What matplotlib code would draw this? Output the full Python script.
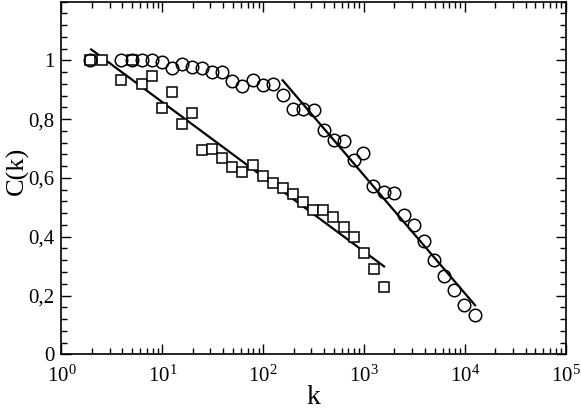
import matplotlib
matplotlib.use("Agg")
import matplotlib.pyplot as plt
import numpy as np
from matplotlib.ticker import FixedLocator, MultipleLocator, LogLocator, NullFormatter

plt.rcParams['font.family'] = ['Liberation Serif', 'DejaVu Serif']
plt.rcParams['mathtext.fontset'] = 'custom'
plt.rcParams['mathtext.rm'] = 'Liberation Serif'
plt.rcParams['mathtext.it'] = 'Liberation Serif:italic'

# circles
k_circ = [1.94, 3.9, 5.0, 6.3, 7.9, 10.0, 12.5, 15.8, 19.8, 24.9, 31.3, 39.4, 49.5,
          62.3, 78.4, 98.5, 124, 156, 196, 247, 316, 397, 499, 628, 790, 986,
          1240, 1570, 1990, 2490, 3140, 3950, 4970, 6250, 7870, 9900, 12600]
c_circ = [1.0, 1.0, 1.0, 1.0, 1.0, 0.994, 0.975, 0.989, 0.977, 0.975, 0.96, 0.961, 0.929,
          0.912, 0.934, 0.915, 0.918, 0.881, 0.836, 0.836, 0.83, 0.764, 0.728, 0.726, 0.662, 0.685,
          0.571, 0.552, 0.549, 0.473, 0.441, 0.384, 0.322, 0.265, 0.22, 0.167, 0.133]

# squares
k_sq = [1.94, 2.51, 3.9, 5.0, 6.3, 7.9, 10.0, 12.5, 15.8, 19.8, 24.9, 31.3, 39.4, 49.5,
        62.3, 78.4, 98.5, 124, 156, 196, 247, 311, 391, 492, 628, 790, 1000, 1260, 1580]
c_sq = [1.0, 1.0, 0.932, 1.0, 0.918, 0.946, 0.838, 0.892, 0.785, 0.822, 0.694, 0.698, 0.669, 0.637,
        0.62, 0.643, 0.606, 0.583, 0.564, 0.544, 0.518, 0.492, 0.49, 0.467, 0.433, 0.399, 0.345, 0.289, 0.229]

# fitted lines (end points)
fit_sq_k = [1.97, 1580]
fit_sq_c = [1.037, 0.299]
fit_circ_k = [156, 12600]
fit_circ_c = [0.932, 0.167]


def main():
    fig = plt.figure(figsize=(5.81, 4.09), dpi=100)
    ax = fig.add_axes([0.1058, 0.1337, 0.868, 0.8626])

    ax.plot(fit_sq_k, fit_sq_c, color='black', lw=1.6)
    ax.plot(fit_circ_k, fit_circ_c, color='black', lw=1.6)
    ax.plot(k_sq, c_sq, 's', ms=7.5, mfc='white', mec='black', mew=1.1, ls='none')
    ax.plot(k_circ, c_circ, 'o', ms=9, mfc='none', mec='black', mew=1.1, ls='none')

    ax.set_xscale('log')
    ax.set_xlim(1, 1e5)
    ax.set_ylim(0, 1.2)

    ax.xaxis.set_major_locator(FixedLocator([1, 10, 100, 1e3, 1e4, 1e5]))
    ax.set_xticklabels([r'$10^{0}$', r'$10^{1}$', r'$10^{2}$', r'$10^{3}$', r'$10^{4}$', r'$10^{5}$'])
    ax.xaxis.set_minor_locator(LogLocator(base=10, subs=np.arange(2, 10), numticks=20))
    ax.xaxis.set_minor_formatter(NullFormatter())

    ax.yaxis.set_major_locator(FixedLocator([0, 0.2, 0.4, 0.6, 0.8, 1.0]))
    ax.set_yticklabels(['0', '0,2', '0,4', '0,6', '0,8', '1'])
    ax.yaxis.set_minor_locator(MultipleLocator(0.04))

    ax.tick_params(which='both', direction='in', top=True, right=True, labelsize=15, width=1)
    ax.tick_params(which='major', length=7)
    ax.tick_params(which='minor', length=4)
    ax.tick_params(axis='x', which='major', pad=8)
    ax.tick_params(axis='y', which='major', pad=5)

    for s in ax.spines.values():
        s.set_linewidth(1.2)

    ax.set_xlabel('k', fontsize=20)
    ax.xaxis.set_label_coords(0.5, -0.088)
    ax.set_ylabel('C(k)', fontsize=19)
    ax.yaxis.set_label_coords(-0.064, 0.52)

    fig.savefig('out.png', dpi=100)


if __name__ == '__main__':
    main()
